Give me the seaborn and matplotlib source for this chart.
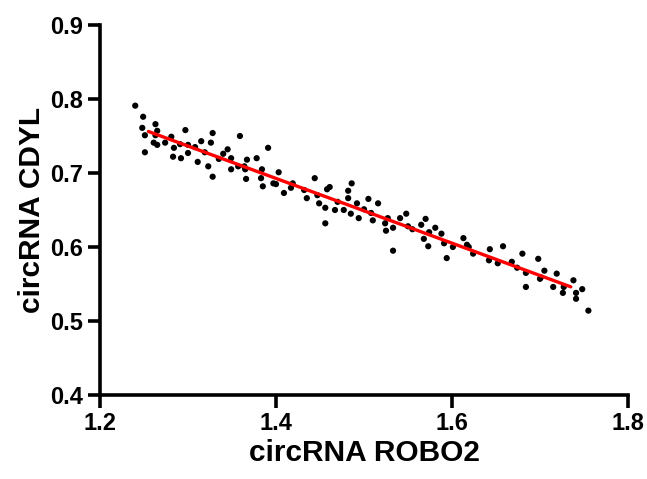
import matplotlib
matplotlib.use("Agg")
import matplotlib.pyplot as plt
import numpy as np
import pandas as pd
import seaborn as sns

###############################################################################
# values

robo2 = [1.240, 1.249, 1.248, 1.263, 1.251, 1.265, 1.263, 1.261, 1.265, 1.251,
         1.274, 1.281, 1.297, 1.284, 1.283, 1.291, 1.292, 1.300, 1.300, 1.308,
         1.315, 1.311, 1.319, 1.323,
         1.328, 1.326, 1.359, 1.345, 1.340, 1.349, 1.335, 1.367, 1.364, 1.357,
         1.349, 1.378, 1.391, 1.365, 1.328, 1.366, 1.384, 1.383, 1.403, 1.397,
         1.400, 1.385, 1.409,
         1.419, 1.417, 1.444, 1.432, 1.435, 1.447, 1.458, 1.461, 1.449, 1.456,
         1.470, 1.486, 1.482, 1.482, 1.467, 1.477, 1.492, 1.485, 1.494, 1.456,
         1.505, 1.516, 1.500, 1.508, 1.510, 1.527, 1.524, 1.525, 1.533, 1.541,
         1.548, 1.550, 1.555, 1.570, 1.565, 1.574, 1.581, 1.568, 1.573, 1.533,
         1.588, 1.591, 1.601, 1.613, 1.617, 1.619, 1.624, 1.594, 1.643, 1.642,
         1.658, 1.652,
         1.680, 1.698, 1.668, 1.674, 1.684, 1.705, 1.701, 1.700, 1.719, 1.684,
         1.715, 1.727, 1.726, 1.738, 1.741, 1.748, 1.741, 1.755]

cdyl = [0.791, 0.776, 0.761, 0.766, 0.751, 0.757, 0.751, 0.741, 0.738, 0.728,
        0.741, 0.749, 0.758, 0.734, 0.722, 0.739, 0.720, 0.738, 0.727, 0.735,
        0.743, 0.715, 0.728, 0.709,
        0.754, 0.741, 0.750, 0.732, 0.726, 0.720, 0.719, 0.718, 0.709, 0.709,
        0.705, 0.720, 0.734, 0.705, 0.695, 0.692, 0.705, 0.693, 0.701, 0.686,
        0.685, 0.682, 0.673,
        0.686, 0.680, 0.693, 0.677, 0.666, 0.670, 0.678, 0.681, 0.659, 0.653,
        0.661, 0.686, 0.676, 0.666, 0.650, 0.650, 0.659, 0.645, 0.639, 0.632,
        0.665, 0.659, 0.651, 0.646, 0.636, 0.639, 0.632, 0.622, 0.626, 0.639,
        0.645, 0.628, 0.624, 0.638, 0.630, 0.620, 0.626, 0.611, 0.601, 0.595,
        0.618, 0.605, 0.600, 0.612, 0.603, 0.600, 0.591, 0.585, 0.597, 0.582,
        0.601, 0.578,
        0.591, 0.584, 0.580, 0.572, 0.565, 0.568, 0.559, 0.557, 0.564, 0.546,
        0.546, 0.546, 0.538, 0.555, 0.538, 0.543, 0.530, 0.514]

# span of the drawn regression line
fit_x_range = [1.255, 1.735]

x_ticks = [1.2, 1.4, 1.6, 1.8]
y_ticks = [0.4, 0.5, 0.6, 0.7, 0.8, 0.9]

###############################################################################

df = pd.DataFrame({"robo2": robo2, "cdyl": cdyl})

sns.set_style("ticks")
plt.rcParams['font.family'] = ['Liberation Sans', 'DejaVu Sans']

fig = plt.figure(figsize=(6.47, 4.79), dpi=100)
ax = fig.add_axes([0.1546, 0.1754, 0.8160, 0.7724])

sns.scatterplot(data=df, x="robo2", y="cdyl", ax=ax, color="black",
                s=20, edgecolor="none", linewidth=0, zorder=3)

# least squares line
slope, icpt = np.polyfit(df["robo2"], df["cdyl"], 1)
fit = pd.DataFrame({"x": fit_x_range})
fit["y"] = slope * fit["x"] + icpt
sns.lineplot(data=fit, x="x", y="y", ax=ax, color="#ff0000", lw=2.4, zorder=4)

ax.set_xlim(1.2, 1.8)
ax.set_ylim(0.4, 0.9)
ax.set_xticks(x_ticks)
ax.set_yticks(y_ticks)
ax.set_xticklabels([f"{v:.1f}" for v in x_ticks], fontweight="bold")
ax.set_yticklabels([f"{v:.1f}" for v in y_ticks], fontweight="bold")

ax.set_xlabel("circRNA ROBO2", fontsize=21.5, fontweight="bold",
              color="black", labelpad=3)
ax.set_ylabel("circRNA CDYL", fontsize=21.5, fontweight="bold",
              color="black", labelpad=3)

sns.despine(ax=ax)
for s in ["left", "bottom"]:
    ax.spines[s].set_linewidth(2.6)
    ax.spines[s].set_color("black")
ax.tick_params(axis="both", which="major", length=9, width=2.6,
               labelsize=17, color="black", labelcolor="black", pad=3)

fig.savefig("out.png", dpi=100)
